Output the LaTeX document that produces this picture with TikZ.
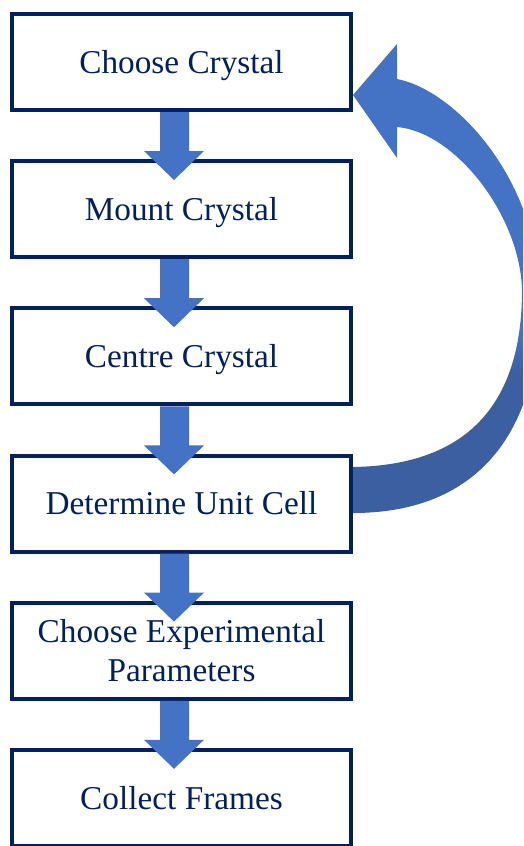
\documentclass[tikz,border=0pt]{standalone}
\usepackage{fontspec}
\setmainfont{Liberation Serif}
\usetikzlibrary{calc}
\usetikzlibrary{positioning}
\definecolor{navy}{HTML}{002060}
\definecolor{arrowblue}{HTML}{4472C4}
\definecolor{arrowdark}{HTML}{3C5FA2}
\pgfdeclareverticalshading{bandshade}{100bp}{color(0bp)=(arrowdark); color(40bp)=(arrowdark); color(44bp)=(arrowblue); color(100bp)=(arrowblue)}

\begin{document}
\begin{tikzpicture}[x=1pt,y=-1pt,stepbox/.style={draw=navy, line width=4pt, minimum width=339pt, minimum height=96pt, inner sep=0pt, text height=22pt, text depth=0pt, align=center, text=navy, font=\fontsize{33.3}{39}\selectfont},downarrow/.style={fill=arrowblue, draw=none}]
\useasboundingbox (0,0) rectangle (523,846);
\clip (0,0) rectangle (523,846);
\foreach \i/\t in {1/Choose Crystal,2/Mount Crystal,3/Centre Crystal,4/Determine Unit Cell,5/{Choose Experimental\\Parameters},6/Collect Frames} {
\ifnum \i = 5
\node (b\i) at ($\i*(0,147.2)+(181.5,-85.2)$) [stepbox, text height=, text depth=] {\t};
\else
\node (b\i) at ($\i*(0,147.2)+(181.5,-85.2)$) [stepbox] {\t};
\fi
}
\foreach \i in {1,2,...,5} {
\fill[downarrow] ($(b\i.south)+(-21.5,0)$) -- ($(b\i.south)+(-21.5,39)$) -- ($(b\i.south)+(-37.5,39)$) -- ($(b\i.south)+(-7.5,68)$) -- ($(b\i.south)+(22.5,39)$) -- ($(b\i.south)+(7.5,39)$) -- ($(b\i.south)+(7.5,0)$) -- cycle;
}

\shade[shading=bandshade] ($(b4.east)+(0,-36.6)$) .. controls (480,465) and (522,390) .. (522,290) .. controls (520,215) and (455,132) .. (397,127) -- (397,158) -- ($(b1.east)+(0,33)$) -- (397,44) -- (397,79) .. controls (455,90) and (540,180) .. (540,300) .. controls (540,430) and (480,513) .. ($(b4.east)+(0,9.4)$) -- cycle;
\end{tikzpicture}
\end{document}
